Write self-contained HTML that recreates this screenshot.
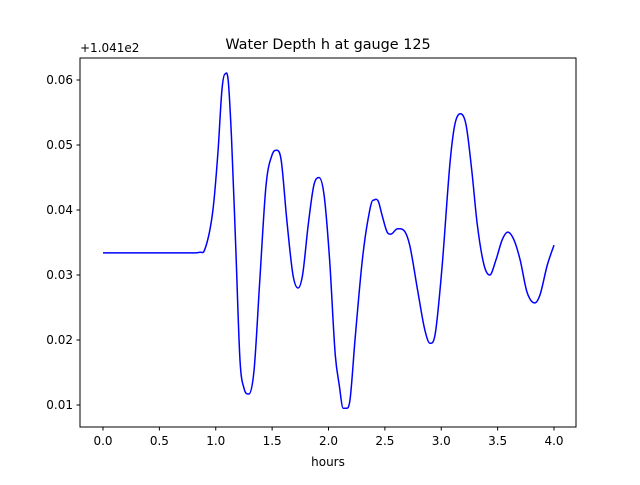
<!DOCTYPE html>
<html><head><meta charset="utf-8"><style>
body{margin:0;background:#fff;font-family:"Liberation Sans","DejaVu Sans",sans-serif}
svg text{font-family:"DejaVu Sans","Liberation Sans",sans-serif;font-size:12px;fill:#000}
</style></head><body>
<svg id="chart" width="640" height="480" xmlns="http://www.w3.org/2000/svg">
<rect width="640" height="480" fill="#fff"/>
<text x="328" y="49" text-anchor="middle" style="font-size:14.4px">Water Depth h at gauge 125</text>
<text x="80" y="52">+1.041e2</text>
<g id="plot"></g>
<rect x="80" y="58" width="496" height="369" fill="none" stroke="#000" stroke-width="1"/>
<text x="328" y="466" text-anchor="middle">hours</text>
</svg>
<script>
const hours=[0,0.3,0.6,0.8,0.86,0.9,0.975,1.02,1.055,1.08,1.11,1.14,1.178,1.215,1.25,1.295,1.34,1.39,1.446,1.5,1.543,1.58,1.63,1.685,1.73,1.77,1.82,1.87,1.915,1.96,2.01,2.06,2.095,2.13,2.155,2.19,2.235,2.3,2.35,2.395,2.44,2.475,2.52,2.555,2.61,2.68,2.72,2.79,2.855,2.9,2.945,3.005,3.08,3.12,3.17,3.22,3.27,3.32,3.38,3.43,3.485,3.54,3.59,3.645,3.7,3.76,3.83,3.875,3.94,4.0];
const depth=[0.0334,0.0334,0.0334,0.0334,0.0335,0.0338,0.040,0.049,0.0585,0.0609,0.060,0.051,0.0340,0.0169,0.0126,0.0117,0.0154,0.029,0.0438,0.0485,0.0492,0.0477,0.0385,0.030,0.028,0.030,0.0377,0.0438,0.045,0.0424,0.0323,0.0177,0.0131,0.0095,0.0095,0.0107,0.020,0.0323,0.0385,0.0415,0.0414,0.0392,0.0366,0.0363,0.0371,0.0366,0.0346,0.0277,0.0215,0.0195,0.0208,0.0308,0.0477,0.0531,0.0548,0.0531,0.0462,0.0377,0.0315,0.030,0.0323,0.0354,0.0366,0.0354,0.0323,0.0274,0.0257,0.0269,0.0315,0.0346];
const xTicks=[0,0.5,1,1.5,2,2.5,3,3.5,4];
const xTickLabels=["0.0","0.5","1.0","1.5","2.0","2.5","3.0","3.5","4.0"];
const yTicks=[0.01,0.02,0.03,0.04,0.05,0.06];
const yTickLabels=["0.01","0.02","0.03","0.04","0.05","0.06"];
const X=v=>103+v*112.75;
const Y=v=>80+(0.06-v)*6500;
const NS="http://www.w3.org/2000/svg";
const g=document.getElementById('plot');
function mk(t,a){const e=document.createElementNS(NS,t);for(const k in a)e.setAttribute(k,a[k]);g.appendChild(e);return e;}
xTicks.forEach((v,i)=>{
  const l=mk('line',{x1:X(v),x2:X(v),y1:427,y2:430.5,stroke:'#000'});
  
  
  const t=mk('text',{x:X(v),y:445,'text-anchor':'middle'});t.textContent=xTickLabels[i];
  
  
});
yTicks.forEach((v,i)=>{
  const l=mk('line',{x1:76.5,x2:80,y1:Y(v),y2:Y(v),stroke:'#000'});
  
  
  const t=mk('text',{x:73,y:Y(v)+4,'text-anchor':'end'});t.textContent=yTickLabels[i];
  
  
});
// monotone-ish cubic (Fritsch-Carlson tangents) to avoid overshoot on uneven spacing
const px=hours.map(X),py=depth.map(Y),n=px.length;
const sl=[];for(let i=0;i<n-1;i++)sl.push((py[i+1]-py[i])/(px[i+1]-px[i]));
const m=[sl[0]];
for(let i=1;i<n-1;i++){m.push(sl[i-1]*sl[i]<=0?0:(sl[i-1]+sl[i])/2);}
m.push(sl[n-2]);
let d='M'+px[0]+','+py[0];
for(let i=0;i<n-1;i++){
  const h=(px[i+1]-px[i])/3;
  d+=' C'+(px[i]+h)+','+(py[i]+m[i]*h)+' '+(px[i+1]-h)+','+(py[i+1]-m[i+1]*h)+' '+px[i+1]+','+py[i+1];
}
const p=mk('path',{d:d,fill:'none',stroke:'#0000ff','stroke-width':1.5,'stroke-linejoin':'round'});


</script>
</body></html>
